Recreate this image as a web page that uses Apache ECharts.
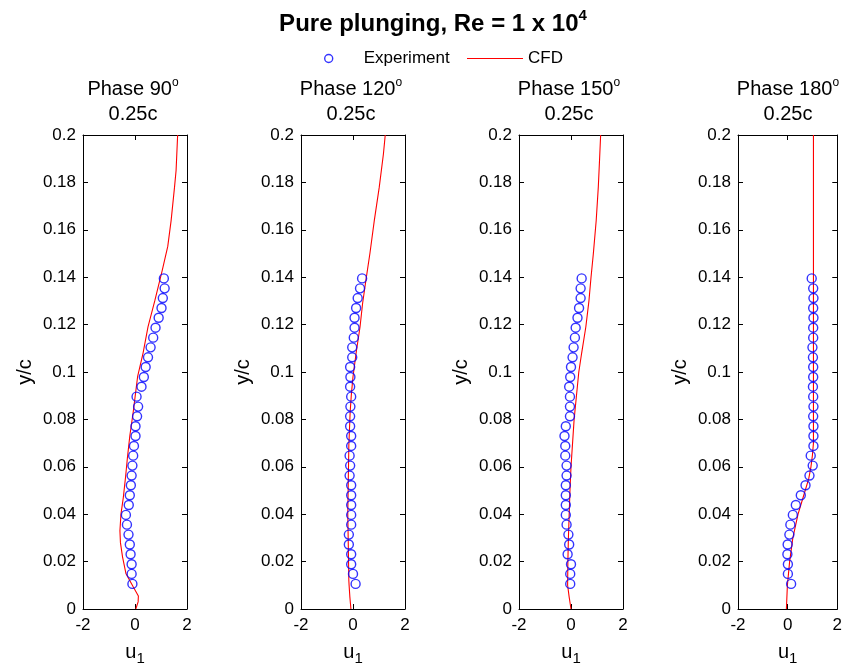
<!DOCTYPE html>
<html><head><meta charset="utf-8">
<script src="https://cdn.jsdelivr.net/npm/echarts@6/dist/echarts.min.js"></script>
<style>html,body{margin:0;padding:0;background:#fff}#c{width:845px;height:672px}</style>
</head><body><div id="c"></div>
<script>
const FONT = 'Liberation Sans, Arial, Helvetica, sans-serif';

const mainTitle = 'Pure plunging, Re = 1 x 10';
const mainTitleSup = '4';
const phases = ['90', '120', '150', '180'];
const station = '0.25c';
const legendNames = ['Experiment', 'CFD'];

// Experiment sample heights (y/c), shared by all phases
const expY = [0.0106, 0.0148, 0.0189, 0.0231, 0.0272, 0.0314, 0.0356, 0.0397, 0.0439, 0.0480,
  0.0522, 0.0563, 0.0605, 0.0647, 0.0688, 0.0730, 0.0771, 0.0813, 0.0854, 0.0896,
  0.0938, 0.0979, 0.1021, 0.1062, 0.1104, 0.1145, 0.1187, 0.1229, 0.1270, 0.1312,
  0.1353, 0.1395];

const exp90 = [-0.10, -0.13, -0.13, -0.17, -0.20, -0.25, -0.31, -0.35, -0.24, -0.20,
  -0.16, -0.13, -0.10, -0.07, -0.04, 0.02, 0.02, 0.08, 0.12, 0.06,
  0.25, 0.34, 0.41, 0.50, 0.60, 0.70, 0.79, 0.91, 1.02, 1.07,
  1.14, 1.11];
const exp120 = [0.10, 0.00, -0.07, -0.07, -0.16, -0.16, -0.07, -0.07, -0.07, -0.07,
  -0.07, -0.13, -0.11, -0.13, -0.07, -0.07, -0.11, -0.11, -0.10, -0.07,
  -0.11, -0.10, -0.11, -0.03, -0.03, 0.03, 0.06, 0.06, 0.12, 0.18,
  0.27, 0.35];
const exp150 = [-0.03, -0.03, 0.00, -0.13, -0.07, -0.10, -0.17, -0.20, -0.20, -0.20,
  -0.20, -0.17, -0.17, -0.22, -0.22, -0.25, -0.20, -0.04, -0.04, -0.04,
  -0.07, -0.03, 0.00, 0.06, 0.10, 0.15, 0.18, 0.25, 0.31, 0.37,
  0.37, 0.41];
const exp180 = [0.14, 0.01, 0.01, -0.01, 0.00, 0.07, 0.11, 0.21, 0.33, 0.53,
  0.72, 0.88, 1.01, 0.93, 1.04, 1.04, 1.04, 1.03, 1.04, 1.03,
  1.02, 1.03, 1.03, 1.02, 1.00, 1.03, 1.03, 1.04, 1.03, 1.04,
  1.03, 0.97];

// CFD profiles
const cfd90Y = [0, 0.003, 0.0055, 0.0094, 0.015, 0.022, 0.028, 0.033, 0.040, 0.047, 0.056, 0.064, 0.073,
  0.083, 0.091, 0.098, 0.108, 0.119, 0.130, 0.143, 0.153, 0.164, 0.178, 0.185, 0.200];
const cfd90X = [0.03, 0.12, 0.13, -0.07, -0.35, -0.48, -0.56, -0.58, -0.54, -0.45, -0.36, -0.29, -0.20,
  -0.07, 0.02, 0.10, 0.31, 0.50, 0.76, 1.05, 1.26, 1.39, 1.52, 1.58, 1.64];

const cfd120Y = [0, 0.005, 0.010, 0.012, 0.026, 0.040, 0.055, 0.069, 0.083, 0.091, 0.098, 0.108,
  0.119, 0.129, 0.139, 0.150, 0.164, 0.178, 0.192, 0.200];
const cfd120X = [-0.08, -0.12, -0.15, -0.16, -0.18, -0.20, -0.18, -0.16, -0.11, -0.06, 0.00, 0.12,
  0.27, 0.37, 0.50, 0.65, 0.82, 1.01, 1.17, 1.24];

const cfd150Y = [0, 0.005, 0.010, 0.020, 0.030, 0.040, 0.050, 0.060, 0.070, 0.080, 0.090, 0.100,
  0.108, 0.119, 0.130, 0.140, 0.150, 0.164, 0.178, 0.190, 0.200];
const cfd150X = [0.00, -0.07, -0.13, -0.12, -0.10, -0.07, -0.04, 0.00, 0.06, 0.12, 0.21, 0.30,
  0.41, 0.57, 0.69, 0.77, 0.86, 0.97, 1.05, 1.10, 1.14];

const cfd180Y = [0, 0.010, 0.020, 0.030, 0.040, 0.048, 0.055, 0.060, 0.065, 0.070, 0.200];
const cfd180X = [-0.05, -0.01, 0.08, 0.21, 0.42, 0.65, 0.85, 0.94, 1.00, 1.04, 1.04];

const expX = [exp90, exp120, exp150, exp180];
const cfdX = [cfd90X, cfd120X, cfd150X, cfd180X];
const cfdY = [cfd90Y, cfd120Y, cfd150Y, cfd180Y];

// layout
const gridLefts = [83, 301, 519, 738];
const GW = 104, GT = 135, GH = 474;

const chart = echarts.init(document.getElementById('c'), null, {renderer: 'canvas'});

const black = '#000';
const blue = '#0000ff';
const red = '#ff0000';
const grids = [], xAxes = [], yAxes = [], series = [], titles = [];

titles.push({
  text: mainTitle + '{s|' + mainTitleSup + '}',
  left: 433, top: 8, textAlign: 'center', padding: 0,
  textStyle: {fontSize: 24, fontWeight: 'bold', color: black, fontFamily: FONT, lineHeight: 32,
    rich: {s: {fontSize: 15, fontWeight: 'bold', color: black, fontFamily: FONT, verticalAlign: 'top', lineHeight: 15}}}
});

gridLefts.forEach((l, i) => {
  grids.push({left: l, top: GT, width: GW, height: GH, show: false});
  const cx = l + GW / 2;
  titles.push({
    text: 'Phase ' + phases[i] + '{s|o}', left: cx - 2, top: 77, textAlign: 'center', padding: 0,
    textStyle: {fontSize: 20, fontWeight: 'normal', color: black, fontFamily: FONT, lineHeight: 24,
      rich: {s: {fontSize: 12, color: black, fontFamily: FONT, verticalAlign: 'top', lineHeight: 12}}}
  });
  titles.push({
    text: station, left: cx - 2, top: 104, textAlign: 'center', padding: 0,
    textStyle: {fontSize: 20, fontWeight: 'normal', color: black, fontFamily: FONT}
  });
});

const lineSt = {color: black, width: 1};
// bottom x axes
gridLefts.forEach((l, i) => {
  xAxes.push({
    gridIndex: i, type: 'value', position: 'bottom', min: -2, max: 2, interval: 2,
    axisLine: {show: true, onZero: false, lineStyle: lineSt},
    axisTick: {show: true, inside: true, length: 5, lineStyle: lineSt},
    axisLabel: {show: true, margin: 8, fontSize: 17, color: black, fontFamily: FONT},
    splitLine: {show: false},
    name: 'u{s|1}', nameLocation: 'middle', nameGap: 30,
    nameTextStyle: {fontSize: 20, color: black, fontFamily: FONT,
      rich: {s: {fontSize: 15, color: black, fontFamily: FONT, padding: [12, 0, 0, 0]}}}
  });
});
// top x axes (box)
gridLefts.forEach((l, i) => {
  xAxes.push({
    gridIndex: i, type: 'value', position: 'top', min: -2, max: 2, interval: 2,
    axisLine: {show: true, onZero: false, lineStyle: lineSt},
    axisTick: {show: true, inside: true, length: 5, lineStyle: lineSt},
    axisLabel: {show: false}, splitLine: {show: false}
  });
});
// left y axes
gridLefts.forEach((l, i) => {
  yAxes.push({
    gridIndex: i, type: 'value', position: 'left', min: 0, max: 0.2, interval: 0.02,
    axisLine: {show: true, onZero: false, lineStyle: lineSt},
    axisTick: {show: true, inside: true, length: 5, lineStyle: lineSt},
    axisLabel: {show: true, margin: 7, fontSize: 17, color: black, fontFamily: FONT,
      formatter: v => String(Math.round(v * 100) / 100)},
    splitLine: {show: false},
    name: 'y/c', nameLocation: 'middle', nameGap: 48, nameRotate: 90,
    nameTextStyle: {fontSize: 20, color: black, fontFamily: FONT}
  });
});
// right y axes (box)
gridLefts.forEach((l, i) => {
  yAxes.push({
    gridIndex: i, type: 'value', position: 'right', min: 0, max: 0.2, interval: 0.02,
    axisLine: {show: true, onZero: false, lineStyle: lineSt},
    axisTick: {show: true, inside: true, length: 5, lineStyle: lineSt},
    axisLabel: {show: false}, splitLine: {show: false}
  });
});

gridLefts.forEach((l, i) => {
  series.push({
    type: 'line', name: legendNames[1], xAxisIndex: i, yAxisIndex: i,
    symbol: 'none', color: red, lineStyle: {color: red, width: 1.1},
    data: cfdX[i].map((x, k) => [x, cfdY[i][k]]), z: 2, silent: true, animation: false
  });
  series.push({
    type: 'scatter', name: legendNames[0], xAxisIndex: i, yAxisIndex: i,
    symbol: 'circle', symbolSize: 9,
    itemStyle: {color: 'rgba(0,0,0,0)', borderColor: blue, borderWidth: 1.4},
    data: expX[i].map((x, k) => [x, expY[k]]), z: 3, silent: true, animation: false
  });
});

const legendText = {fontSize: 17, color: black, fontFamily: FONT};
chart.setOption({
  backgroundColor: '#fff',
  animation: false,
  title: titles,
  legend: [
    {data: [{name: legendNames[0], icon: 'circle',
      itemStyle: {color: 'rgba(0,0,0,0)', borderColor: blue, borderWidth: 1.4}}],
     left: 324, top: 50, padding: 0, itemWidth: 8, itemHeight: 8, selectedMode: false,
     textStyle: Object.assign({padding: [0, 0, 0, 26]}, legendText)},
    {data: [{name: legendNames[1], icon: 'rect', itemStyle: {color: red}}],
     left: 467, top: 50, padding: 0, itemWidth: 56, itemHeight: 1, selectedMode: false, textStyle: legendText}
  ],
  grid: grids,
  xAxis: xAxes,
  yAxis: yAxes,
  series: series
});
</script>
</body></html>
